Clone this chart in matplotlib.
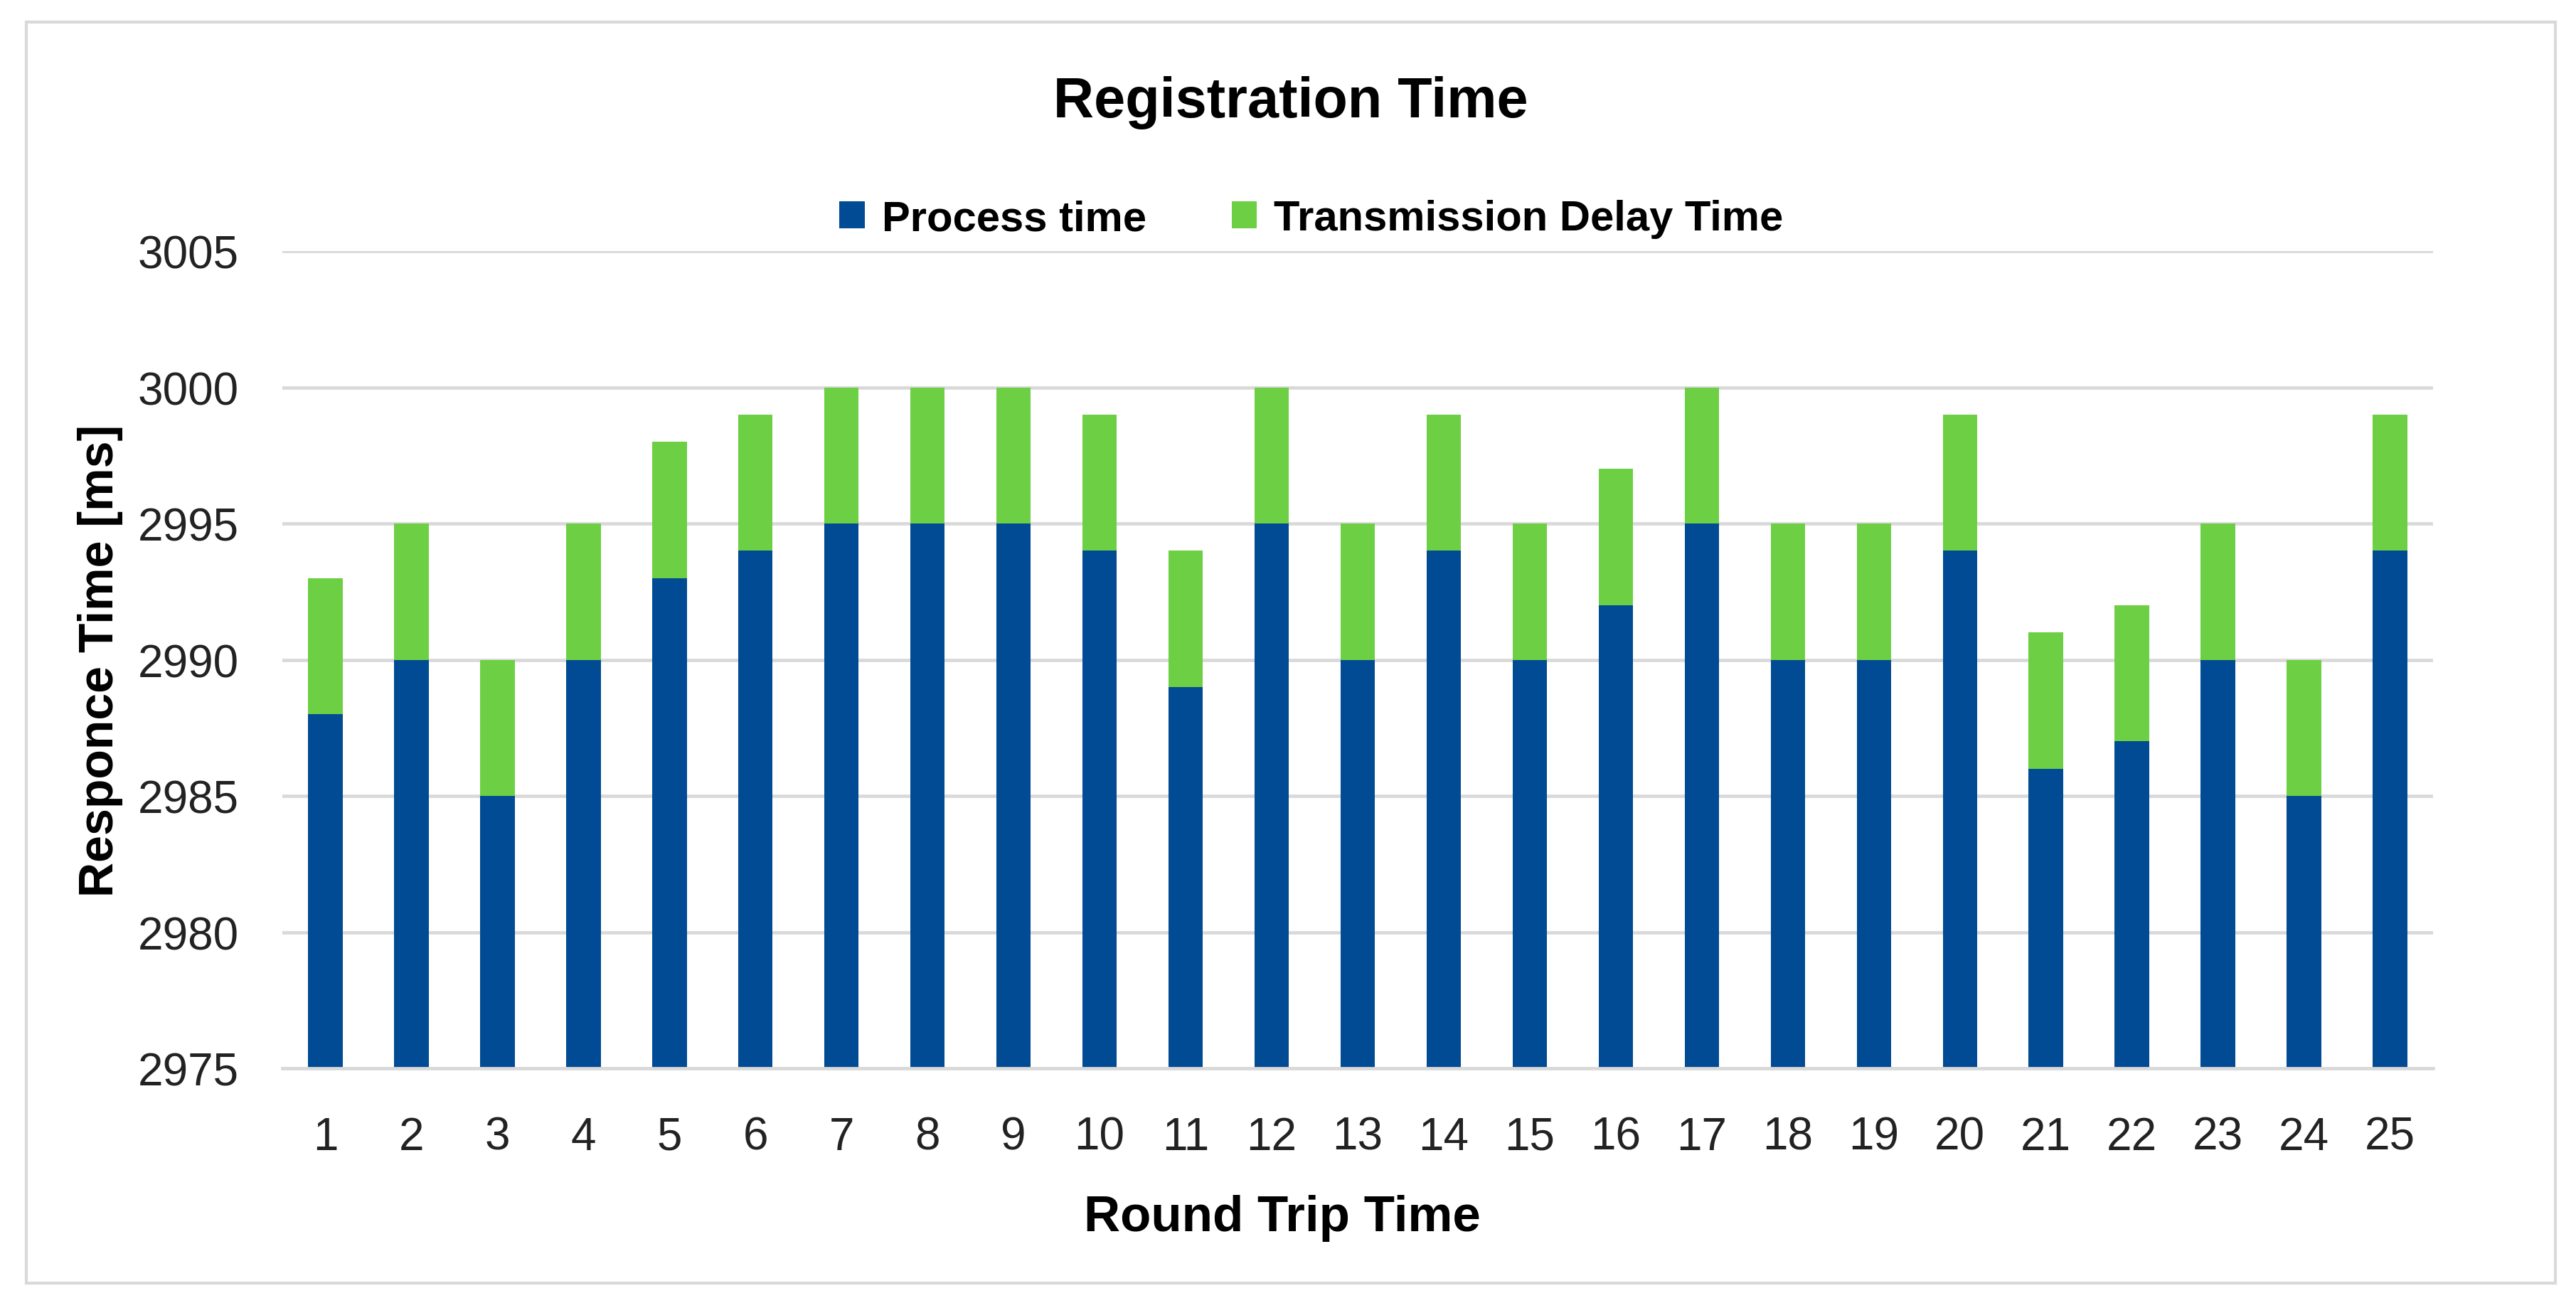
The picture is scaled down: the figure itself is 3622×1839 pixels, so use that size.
import matplotlib
matplotlib.use("Agg")
import matplotlib.pyplot as plt
from matplotlib.patches import Rectangle
import numpy as np

# ---- data ----
rounds = list(range(1, 26))
process_time = [2988, 2990, 2985, 2990, 2993, 2994, 2995, 2995, 2995, 2994,
                2989, 2995, 2990, 2994, 2990, 2992, 2995, 2990, 2990, 2994,
                2986, 2987, 2990, 2985, 2994]
transmission_delay = [5, 5, 5, 5, 5, 5, 5, 5, 5, 5,
                      5, 5, 5, 5, 5, 5, 5, 5, 5, 5,
                      5, 5, 5, 5, 5]
y_ticks = [2975, 2980, 2985, 2990, 2995, 3000, 3005]

title = "Registration Time"
series_names = ["Process time", "Transmission Delay Time"]
x_label = "Round Trip Time"
y_label = "Responce Time [ms]"

BLUE = "#004b93"
GREEN = "#6dcf43"
GRID = "#d9d9d9"
FONT = ["Liberation Sans Narrow", "Liberation Sans", "DejaVu Sans"]

W, H = 3622, 1840
DPI = 100
fig = plt.figure(figsize=(W / DPI, H / DPI), dpi=DPI)
fig.patch.set_facecolor("white")

# axes placement in pixels
L, R, T, B = 397, 3421, 354, 1503
ax = fig.add_axes([L / W, 1 - B / H, (R - L) / W, (B - T) / H])

x = np.array(rounds)
ax.bar(x, process_time, width=0.4, color=BLUE, label=series_names[0], zorder=3)
ax.bar(x, transmission_delay, width=0.4, bottom=process_time, color=GREEN,
       label=series_names[1], zorder=3)

ax.set_xlim(0.5, 25.5)
ax.set_ylim(y_ticks[0], y_ticks[-1])
ax.set_yticks(y_ticks)
ax.set_xticks(x)
ax.set_xticklabels([str(r) for r in rounds])
ax.grid(axis="y", color=GRID, linewidth=3.4, zorder=0)
ax.set_axisbelow(True)
for s in ["top", "right", "left"]:
    ax.spines[s].set_visible(False)
ax.spines["bottom"].set_color(GRID)
ax.spines["bottom"].set_linewidth(3.4)
ax.spines["bottom"].set_zorder(4)
ax.tick_params(axis="both", length=0, labelsize=46, labelcolor="#222222")
ax.tick_params(axis="x", pad=48)
ax.tick_params(axis="y", pad=44)
for lab in ax.get_xticklabels() + ax.get_yticklabels():
    lab.set_family(FONT)

ax.set_xlabel(x_label, fontsize=51, fontweight="bold", family=FONT)
ax.xaxis.set_label_coords((1803 - L) / (R - L), (B - 1713) / (B - T))
ax.xaxis.label.set_va("center")
ax.set_ylabel(y_label, fontsize=49, fontweight="bold", family=FONT)
ax.yaxis.set_label_coords((141 - L) / (R - L), 0.5)
ax.yaxis.label.set_va("center")

fig.text(1815 / W, 1 - 145 / H, title, fontsize=57, fontweight="bold",
         family=FONT, ha="center", va="center")

leg = fig.legend(loc="center", bbox_to_anchor=(1844 / W, 1 - 309 / H), ncol=2,
                 frameon=False, prop={"family": FONT, "size": 43, "weight": "bold"},
                 handlelength=0.6, handleheight=0.6, handletextpad=0.4,
                 columnspacing=2.0)

# chart border
fig.patches.append(Rectangle((37 / W, 1 - 1805 / H), (3593 - 37) / W, (1805 - 32) / H,
                             transform=fig.transFigure, fill=False,
                             edgecolor=GRID, linewidth=3))

fig.savefig("out.png", dpi=DPI)
